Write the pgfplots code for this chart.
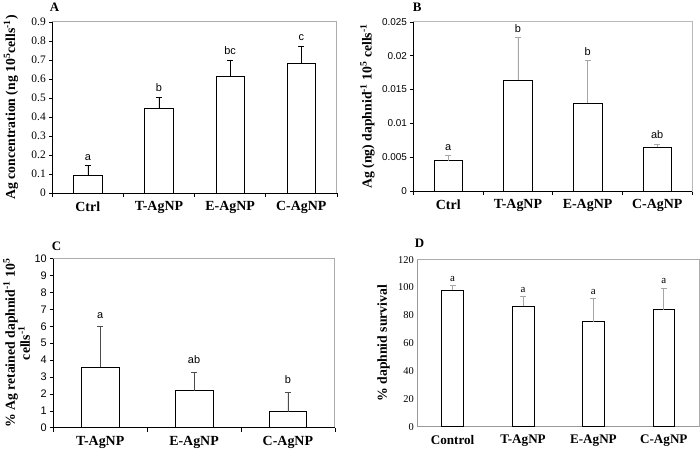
\documentclass[border=0pt]{standalone}
\usepackage{fontspec}
\setmainfont{Liberation Serif}
\setsansfont{Liberation Sans}
\usepackage{pgfplots}
\pgfplotsset{compat=1.18}
\pgfplotsset{
  panel/.style={
    scale only axis, anchor=south west,
    xmin=-0.5, xmax=3.5, ymin=0,
    xtick={0,1,2,3},
    major x tick style={draw=none},
    minor xtick={-0.5,0.5,1.5,2.5,3.5},
    tick align=outside, xtick pos=left, ytick pos=left,
    major tick length=3pt, minor tick length=4pt,
    tick style={black, line width=0.6pt},
    axis line style={draw=gray!65, line width=0.8pt},
    /pgf/number format/assume math mode=true,
    scaled y ticks=false,
    xticklabel style={font=\fontsize{14}{14}\selectfont\bfseries, yshift=-2pt},
    ylabel style={font=\fontsize{13.8}{15}\selectfont\bfseries, anchor=center, align=center},
    clip=false,
  },
  sig/.style={draw=none, mark=none, nodes near coords, point meta=explicit symbolic,
    nodes near coords style={anchor=south, inner sep=2pt, black}},
}
\newcommand{\frameLB}{\draw[black, line width=0.8pt] (rel axis cs:0,1) -- (rel axis cs:0,0) -- (rel axis cs:1,0);}
\newcommand{\sups}[1]{\textsuperscript{#1}}
\begin{document}
\begin{tikzpicture}
\path (0pt,0pt) rectangle (700pt,450pt);

% ---------------- A ----------------
\begin{axis}[panel, at={(49pt,258pt)}, width=286pt, height=172pt,
  ymax=0.9, ytick={0,0.1,...,0.9},
  yticklabel style={font=\fontsize{11.5}{11.5}\selectfont, /pgf/number format/fixed, /pgf/number format/precision=1},
  xticklabels={Ctrl,T-AgNP,E-AgNP,C-AgNP},
  ylabel={Ag concentration (ng 10\sups{5}cells\sups{-1})},
  ylabel style={at={(axis description cs:-0.145,0.5)}}]
\frameLB
\addplot[ybar, bar width=0.4, fill=white, draw=black, line width=0.6pt,
  error bars/.cd, y dir=plus, y explicit,
  error bar style={black, line width=0.6pt},
  error mark options={rotate=90, mark size=3pt, black, line width=0.6pt}]
  coordinates {(0,0.093) +- (0,0.050) (1,0.445) +- (0,0.060) (2,0.615) +- (0,0.085) (3,0.680) +- (0,0.093)};
\addplot[sig, nodes near coords style={font=\sffamily\fontsize{11}{11}\selectfont, yshift=3pt}]
  coordinates {(0,0.143) [a] (1,0.505) [b] (2,0.700) [bc] (3,0.773) [c]};
\node[anchor=base west, font=\fontsize{13}{13}\selectfont\bfseries, xshift=-6pt, yshift=10pt] at (rel axis cs:0,1) {A};
\end{axis}

% ---------------- B ----------------
\begin{axis}[panel, at={(412pt,260pt)}, width=280pt, height=170pt,
  ymax=0.025, ytick={0,0.005,0.01,0.015,0.02,0.025},
  yticklabel style={font=\sffamily\fontsize{10}{10}\selectfont, /pgf/number format/fixed, /pgf/number format/precision=3},
  axis line style={draw=gray!55},
  xticklabels={Ctrl,T-AgNP,E-AgNP,C-AgNP},
  ylabel={Ag (ng) daphnid\sups{-1} 10\sups{5} cells\sups{-1}},
  ylabel style={at={(axis description cs:-0.165,0.5)}}]
\frameLB
\addplot[ybar, bar width=0.41, fill=white, draw=black, line width=0.6pt,
  error bars/.cd, y dir=plus, y explicit,
  error bar style={gray!70, line width=0.8pt},
  error mark options={rotate=90, mark size=3pt, gray!70, line width=0.8pt}]
  coordinates {(0,0.0045) +- (0,0.0007) (1,0.0164) +- (0,0.0063) (2,0.0130) +- (0,0.0063) (3,0.0065) +- (0,0.0004)};
\addplot[sig, nodes near coords style={font=\sffamily\fontsize{11}{11}\selectfont, yshift=3pt}]
  coordinates {(0,0.0052) [a] (1,0.0227) [b] (2,0.0193) [b] (3,0.0069) [ab]};
\node[anchor=base west, font=\fontsize{13}{13}\selectfont\bfseries, xshift=-4pt, yshift=10pt] at (rel axis cs:0,1) {B};
\end{axis}

% ---------------- C ----------------
\begin{axis}[panel, at={(50pt,22pt)}, width=283pt, height=170pt,
  xmin=-0.5, xmax=2.5, xtick={0,1,2}, minor xtick={-0.5,0.5,1.5,2.5},
  ymax=10, ytick={0,1,...,10},
  yticklabel style={font=\sffamily\fontsize{11}{11}\selectfont},
  xticklabels={T-AgNP,E-AgNP,C-AgNP},
  ylabel={\% Ag retained daphnid\sups{-1} 10\sups{5}\\cells\sups{-1}},
  ylabel style={at={(axis description cs:-0.13,0.5)}}]
\frameLB
\addplot[ybar, bar width=0.4, fill=white, draw=black, line width=0.6pt,
  error bars/.cd, y dir=plus, y explicit,
  error bar style={black!70, line width=0.7pt},
  error mark options={rotate=90, mark size=3pt, black!70, line width=0.7pt}]
  coordinates {(0,3.6) +- (0,2.4) (1,2.2) +- (0,1.1) (2,0.95) +- (0,1.15)};
\addplot[sig, nodes near coords style={font=\sffamily\fontsize{11}{11}\selectfont, yshift=6pt}]
  coordinates {(0,6.0) [a] (1,3.3) [ab] (2,2.1) [b]};
\node[anchor=base west, font=\fontsize{13}{13}\selectfont\bfseries, xshift=-5pt, yshift=8pt] at (rel axis cs:0,1) {C};
\end{axis}

% ---------------- D ----------------
\begin{axis}[panel, at={(416pt,23pt)}, width=283pt, height=168pt,
  ymax=120, ytick={0,20,...,120},
  major tick length=0pt, minor tick length=0pt,
  yticklabel style={font=\fontsize{10.5}{10.5}\selectfont},
  xticklabels={Control,T-AgNP,E-AgNP,C-AgNP},
  xticklabel style={font=\fontsize{13.2}{13.2}\selectfont\bfseries, yshift=-3pt},
  ylabel={\% daphnid survival},
  ylabel style={at={(axis description cs:-0.12,0.5)}}]
\draw[gray!80, line width=0.8pt] (rel axis cs:0,1) -- (rel axis cs:0,0) -- (rel axis cs:1,0);
\addplot[ybar, bar width=0.31, fill=white, draw=black, line width=0.6pt,
  error bars/.cd, y dir=plus, y explicit,
  error bar style={gray!70, line width=0.8pt},
  error mark options={rotate=90, mark size=3pt, gray!70, line width=0.8pt}]
  coordinates {(0,98) +- (0,3.5) (1,86.5) +- (0,7) (2,75.5) +- (0,16.5) (3,84) +- (0,15.5)};
\addplot[sig, nodes near coords style={font=\fontsize{11}{11}\selectfont, yshift=2pt}]
  coordinates {(0,101.5) [a] (1,93.5) [a] (2,92) [a] (3,99.5) [a]};
\node[anchor=base west, font=\fontsize{13}{13}\selectfont\bfseries, xshift=-6pt, yshift=12pt] at (rel axis cs:0,1) {D};
\end{axis}
\end{tikzpicture}
\end{document}
